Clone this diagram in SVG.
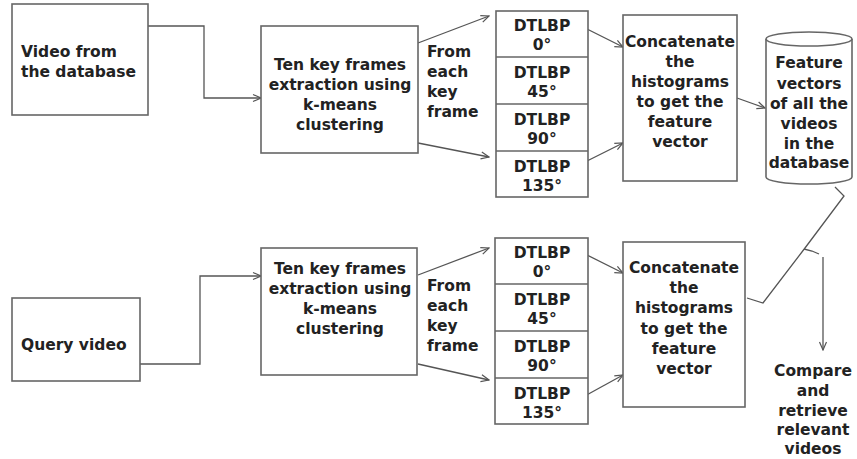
<svg xmlns="http://www.w3.org/2000/svg" width="857" height="459" viewBox="0 0 857 459">
<defs>
<marker id="arr" markerWidth="10" markerHeight="10" refX="9" refY="5" orient="auto" markerUnits="userSpaceOnUse">
<polyline points="1,1.5 9,5 1,8.5" fill="none" stroke="#555" stroke-width="1.2"/>
</marker>
<style>
.box{fill:#fff;stroke:#666;stroke-width:1.6}
.ln{fill:none;stroke:#555;stroke-width:1.3}
.t{font-family:"DejaVu Sans",sans-serif;font-weight:bold;font-size:15.5px;fill:#222}
.c{text-anchor:middle}
</style>
</defs>
<g id="connectors">
<polyline class="ln" points="148,26 204,26 204,98 261,98" marker-end="url(#arr)"/>
<line class="ln" x1="418" y1="43" x2="489" y2="16" marker-end="url(#arr)"/>
<line class="ln" x1="418" y1="143" x2="489" y2="157" marker-end="url(#arr)"/>
<line class="ln" x1="583" y1="27" x2="623" y2="47" marker-end="url(#arr)"/>
<line class="ln" x1="583" y1="163" x2="623" y2="143" marker-end="url(#arr)"/>
<line class="ln" x1="737" y1="98" x2="765" y2="108" marker-end="url(#arr)"/>
<polyline class="ln" points="140,364 200,364 200,276 261,276" marker-end="url(#arr)"/>
<line class="ln" x1="418" y1="275" x2="489" y2="248" marker-end="url(#arr)"/>
<line class="ln" x1="418" y1="364" x2="489" y2="380" marker-end="url(#arr)"/>
<line class="ln" x1="583" y1="253" x2="623" y2="273" marker-end="url(#arr)"/>
<line class="ln" x1="583" y1="397" x2="623" y2="375" marker-end="url(#arr)"/>
<polyline class="ln" points="835,187 844,196 805,248 763,303 747,298"/>
<polyline class="ln" points="804,249 812,251 819,254"/>
<line class="ln" x1="823" y1="257" x2="823" y2="350" marker-end="url(#arr)"/>
</g>
<g id="video-db">
<rect class="box" x="12" y="4" width="136" height="111"/>
<text class="t" x="21" y="57">Video from</text>
<text class="t" x="21" y="77">the database</text>
</g>
<g id="keyframes-top">
<rect class="box" x="261" y="26" width="157" height="127"/>
<text class="t c" x="340" y="70">Ten key frames</text>
<text class="t c" x="340" y="90">extraction using</text>
<text class="t c" x="340" y="110">k-means</text>
<text class="t c" x="340" y="130">clustering</text>
</g>
<g id="from-each-top">
<text class="t" x="427" y="57">From</text>
<text class="t" x="427" y="77">each</text>
<text class="t" x="427" y="97">key</text>
<text class="t" x="427" y="117">frame</text>
</g>
<g id="dtlbp-top">
<rect class="box" x="496" y="11" width="92" height="186"/>
<line class="box" x1="496" y1="57" x2="588" y2="57"/>
<line class="box" x1="496" y1="104" x2="588" y2="104"/>
<line class="box" x1="496" y1="151" x2="588" y2="151"/>
<text class="t c" x="542" y="31">DTLBP</text>
<text class="t c" x="542" y="50">0°</text>
<text class="t c" x="542" y="78">DTLBP</text>
<text class="t c" x="542" y="97">45°</text>
<text class="t c" x="542" y="125">DTLBP</text>
<text class="t c" x="542" y="144">90°</text>
<text class="t c" x="542" y="172">DTLBP</text>
<text class="t c" x="542" y="191">135°</text>
</g>
<g id="concat-top">
<rect class="box" x="623" y="15" width="114" height="166"/>
<text class="t c" x="680" y="47">Concatenate</text>
<text class="t c" x="680" y="67">the</text>
<text class="t c" x="680" y="87">histograms</text>
<text class="t c" x="680" y="107">to get the</text>
<text class="t c" x="680" y="127">feature</text>
<text class="t c" x="680" y="147">vector</text>
</g>
<g id="database">
<path class="box" d="M766,39 L766,177 A43,7 0 0 0 852,177 L852,39 A43,7 0 0 0 766,39 Z"/>
<path class="box" d="M766,39 A43,7 0 0 0 852,39" fill="none"/>
<text class="t c" x="809" y="68">Feature</text>
<text class="t c" x="809" y="89">vectors</text>
<text class="t c" x="809" y="109">of all the</text>
<text class="t c" x="809" y="129">videos</text>
<text class="t c" x="809" y="149">in the</text>
<text class="t c" x="809" y="168">database</text>
</g>
<g id="query-video">
<rect class="box" x="12" y="298" width="128" height="83"/>
<text class="t" x="21" y="350">Query video</text>
</g>
<g id="keyframes-bottom">
<rect class="box" x="261" y="248" width="156" height="127"/>
<text class="t c" x="340" y="274">Ten key frames</text>
<text class="t c" x="340" y="294">extraction using</text>
<text class="t c" x="340" y="314">k-means</text>
<text class="t c" x="340" y="334">clustering</text>
</g>
<g id="from-each-bottom">
<text class="t" x="427" y="291">From</text>
<text class="t" x="427" y="311">each</text>
<text class="t" x="427" y="331">key</text>
<text class="t" x="427" y="351">frame</text>
</g>
<g id="dtlbp-bottom">
<rect class="box" x="495" y="238" width="93" height="186"/>
<line class="box" x1="495" y1="284" x2="588" y2="284"/>
<line class="box" x1="495" y1="331" x2="588" y2="331"/>
<line class="box" x1="495" y1="378" x2="588" y2="378"/>
<text class="t c" x="542" y="258">DTLBP</text>
<text class="t c" x="542" y="277">0°</text>
<text class="t c" x="542" y="305">DTLBP</text>
<text class="t c" x="542" y="324">45°</text>
<text class="t c" x="542" y="352">DTLBP</text>
<text class="t c" x="542" y="371">90°</text>
<text class="t c" x="542" y="399">DTLBP</text>
<text class="t c" x="542" y="418">135°</text>
</g>
<g id="concat-bottom">
<rect class="box" x="623" y="242" width="122" height="165"/>
<text class="t c" x="684" y="273">Concatenate</text>
<text class="t c" x="684" y="293">the</text>
<text class="t c" x="684" y="313">histograms</text>
<text class="t c" x="684" y="334">to get the</text>
<text class="t c" x="684" y="354">feature</text>
<text class="t c" x="684" y="374">vector</text>
</g>
<g id="compare">
<text class="t c" x="813" y="376">Compare</text>
<text class="t c" x="813" y="396">and</text>
<text class="t c" x="813" y="416">retrieve</text>
<text class="t c" x="813" y="435">relevant</text>
<text class="t c" x="813" y="454">videos</text>
</g>
</svg>
